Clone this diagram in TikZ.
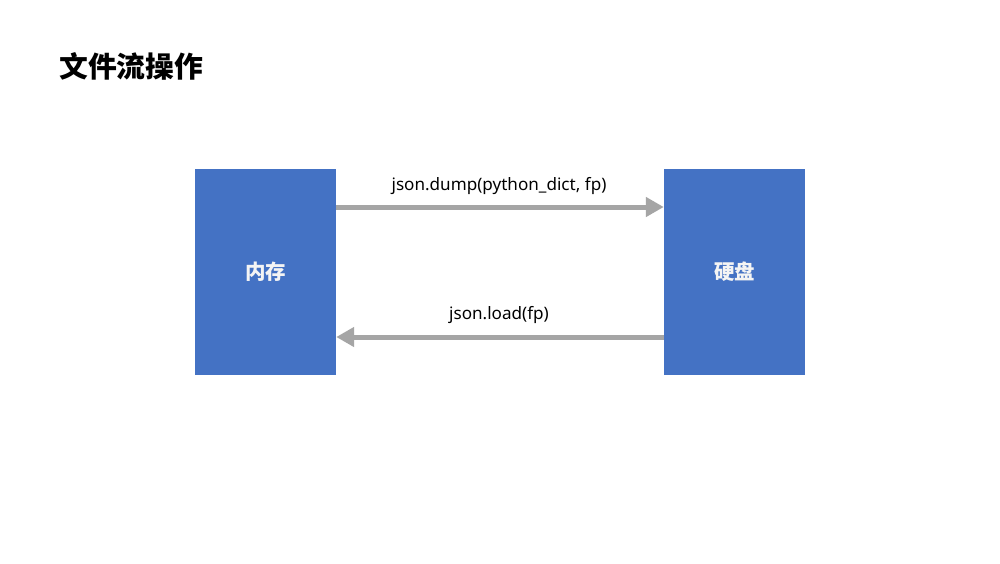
\documentclass[tikz,border=0pt]{standalone}
\usepackage{fontspec}
\setmainfont{Noto Sans}
\newfontfamily\cjk{Noto Sans CJK SC}
\usetikzlibrary{arrows.meta}
\definecolor{boxblue}{HTML}{4472C4}
\definecolor{arrowgray}{HTML}{A5A5A5}
\definecolor{boxtext}{HTML}{F4F4F4}
\begin{document}
\begin{tikzpicture}[x=1pt,y=-1pt,
  store/.style={fill=boxblue,draw=none,minimum width=141pt,minimum height=206pt,inner sep=0pt,text=boxtext,font=\cjk\bfseries\fontsize{20.5}{24}\selectfont},
  flow/.style={draw=arrowgray,line width=5pt,-{Triangle[length=18pt,width=19pt]}},
  lbl/.style={font=\fontsize{17.1}{20}\selectfont,inner sep=0pt}]
\useasboundingbox (0,0) rectangle (1000,563);
\fill[white] (0,0) rectangle (1000,563);
\node[anchor=west,inner sep=0pt,font=\cjk\bfseries\fontsize{28.8}{32}\selectfont] (title) at (59,66) {文件流操作};
\node[store] (mem) at (265.5,272) {内存};
\node[store] (disk) at (734.5,272) {硬盘};
\coordinate (a1s) at (mem.east |- 0,207);
\coordinate (a1e) at (disk.west |- 0,207);
\coordinate (a2s) at (disk.west |- 0,337);
\coordinate (a2e) at (mem.east |- 0,337);
\draw[flow] (a1s) -- (a1e);
\draw[flow] (a2s) -- (a2e);
\node[lbl] (l1) at (499,186) {json.dump(python\_dict, fp)};
\node[lbl] (l2) at (499,315.5) {json.load(fp)};
\end{tikzpicture}
\end{document}
